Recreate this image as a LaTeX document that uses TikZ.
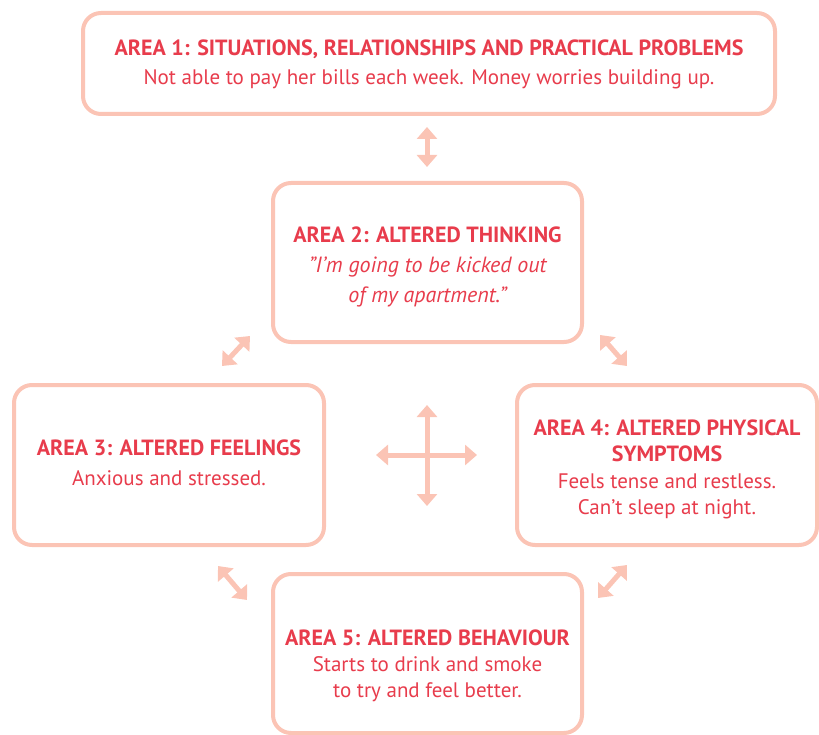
\documentclass[tikz,border=0pt]{standalone}
\usepackage{fontspec}
\setmainfont{PT Sans}
\usetikzlibrary{arrows.meta}
\definecolor{AreaRed}{HTML}{E83C4C}
\definecolor{AreaPink}{HTML}{FBC4B5}
\newcommand{\areahead}[1]{{\fontsize{22}{27}\selectfont\bfseries #1}}
\newcommand{\areaquote}[1]{{\fontsize{22}{27}\selectfont\itshape #1}}

\begin{document}
\begin{tikzpicture}[
        x=1pt, y=-1pt,
        font=\fontsize{21}{27}\selectfont,
        areabox/.style={
            rounded corners=18pt,
            draw=AreaPink,
            line width=4pt,
            fill=white,
            inner sep=0pt
        },
        areatext/.style={text=AreaRed, align=center, inner sep=0pt},
        link/.style={{Triangle[width=20pt,length=12pt]}-{Triangle[width=20pt,length=12pt]}, line width=5pt, draw=AreaPink}
    ]
        \useasboundingbox (0,0) rectangle (819,735);

        % boxes
        \node[areabox, minimum width=692pt, minimum height=101pt] (area1) at (429,63.5) {};
        \node[areabox, minimum width=309pt, minimum height=159pt] (area2) at (427.5,262.5) {};
        \node[areabox, minimum width=310pt, minimum height=160pt] (area3) at (169,465) {};
        \node[areabox, minimum width=300pt, minimum height=160pt] (area4) at (667,465) {};
        \node[areabox, minimum width=309pt, minimum height=159pt] (area5) at (427.5,653.5) {};

        % texts
        \node[areatext, font=\fontsize{21}{29}\selectfont] (area1txt) at (429,64)
            {\areahead{AREA 1: SITUATIONS, RELATIONSHIPS AND PRACTICAL PROBLEMS}\\Not able to pay her bills each week. Money worries building up.};
        \node[areatext, font=\fontsize{21}{30}\selectfont] (area2txt) at (427.5,266.5)
            {\areahead{AREA 2: ALTERED THINKING}\\\areaquote{"I’m going to be kicked out}\\\areaquote{of my apartment."}};
        \node[areatext, font=\fontsize{21}{30}\selectfont] (area3txt) at (169,463)
            {\areahead{AREA 3: ALTERED FEELINGS}\\Anxious and stressed.};
        \node[areatext, font=\fontsize{21}{26.5}\selectfont] (area4txt) at (667,469.5)
            {\areahead{AREA 4: ALTERED PHYSICAL}\\\areahead{SYMPTOMS}\\Feels tense and restless.\\Can’t sleep at night.};
        \node[areatext, font=\fontsize{21}{26}\selectfont] (area5txt) at (427.5,666)
            {\areahead{AREA 5: ALTERED BEHAVIOUR}\\Starts to drink and smoke\\to try and feel better.};

        % arrow ends
        \coordinate (a12) at (427,127);
        \coordinate (a21) at (427,167);
        \coordinate (a23) at (250,336);
        \coordinate (a32) at (222,366);
        \coordinate (a24) at (600,335);
        \coordinate (a42) at (627,366);
        \coordinate (a35) at (218,566);
        \coordinate (a53) at (247,600);
        \coordinate (a45) at (627,565);
        \coordinate (a54) at (598,598);
        \coordinate (crossW) at (376,455);
        \coordinate (crossE) at (477,455);
        \coordinate (crossN) at (427,405);
        \coordinate (crossS) at (427,506);

        \draw[link] (a12) -- (a21);
        \draw[link] (a32) -- (a23);
        \draw[link] (a24) -- (a42);
        \draw[link] (a35) -- (a53);
        \draw[link] (a54) -- (a45);
        \draw[link] (crossW) -- (crossE);
        \draw[link] (crossN) -- (crossS);
\end{tikzpicture}
\end{document}
